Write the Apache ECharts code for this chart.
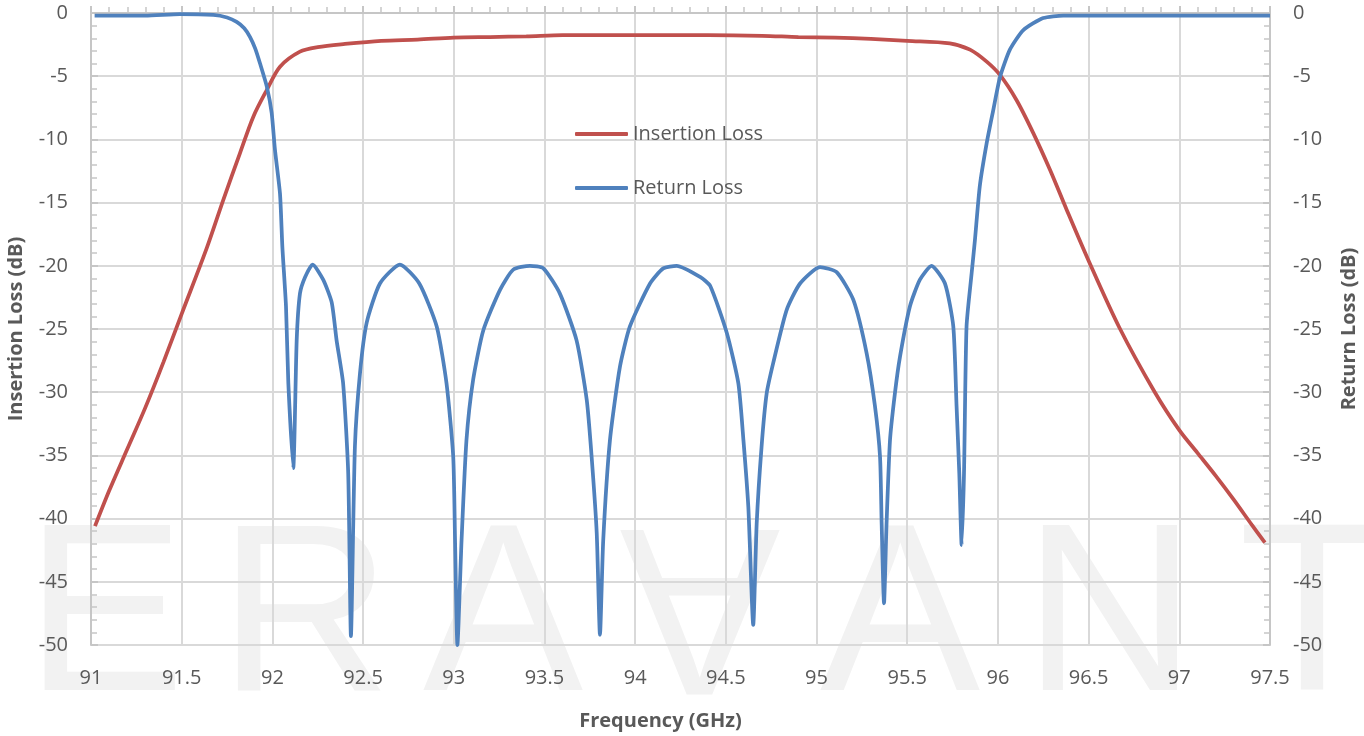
<!DOCTYPE html>
<html>
<head>
<meta charset="utf-8">
<title>Insertion / Return Loss</title>
<script src="https://cdn.jsdelivr.net/npm/echarts@6/dist/echarts.min.js"></script>
<style>
    html, body { margin: 0; padding: 0; background: #fff; }
    #chart { width: 1364px; height: 736px; }
</style>
</head>
<body>
<div id="chart"></div>
<script>
// insertion loss
const ilFreq = [91.022, 91.1, 91.2, 91.3, 91.4, 91.5, 91.638, 91.729, 91.821, 91.895, 91.969,
    92.042, 92.152, 92.25, 92.4, 92.6, 92.8, 93.0, 93.2, 93.4, 93.6, 94.0, 94.4, 94.7, 94.9,
    95.1, 95.3, 95.5, 95.735, 95.846, 95.938, 96.011, 96.103, 96.195, 96.287, 96.38,
    96.5, 96.67, 96.865, 97.0, 97.1, 97.2, 97.3, 97.4, 97.472]
const ilLoss = [-40.6, -37.8, -34.5, -31.2, -27.6, -23.8, -18.6, -14.8, -11.1, -8.2, -6.1,
    -4.25, -3.06, -2.7, -2.45, -2.2, -2.1, -1.95, -1.9, -1.85, -1.75, -1.75, -1.75, -1.8, -1.9,
    -1.95, -2.05, -2.2, -2.4, -2.9, -3.85, -4.9, -6.9, -9.5, -12.4, -15.6,
    -19.6, -24.9, -30.0, -33.0, -34.8, -36.6, -38.5, -40.5, -41.9]

// return loss
const rlFreq = [91.02, 91.3, 91.49, 91.674, 91.75, 91.803, 91.845, 91.877, 91.905, 91.932,
    91.969, 91.996, 92.014, 92.042, 92.055, 92.075, 92.088, 92.115, 92.134, 92.152, 92.18,
    92.222, 92.28, 92.327, 92.354, 92.39, 92.418, 92.433, 92.455, 92.483, 92.52, 92.593,
    92.703, 92.81, 92.906, 92.96, 92.997, 93.007, 93.02, 93.043, 93.07, 93.107, 93.163,
    93.255, 93.328, 93.42, 93.494, 93.585, 93.677, 93.733, 93.76, 93.788, 93.806, 93.824,
    93.861, 93.916, 93.971, 94.082, 94.155, 94.229, 94.36, 94.414, 94.505, 94.569, 94.597,
    94.624, 94.651, 94.67, 94.697, 94.725, 94.761, 94.835, 94.909, 95.019, 95.111, 95.203,
    95.276, 95.322, 95.35, 95.359, 95.372, 95.386, 95.405, 95.432, 95.46, 95.515, 95.57,
    95.634, 95.708, 95.754, 95.772, 95.787, 95.8, 95.813, 95.827, 95.855, 95.873, 95.9,
    95.938, 95.974, 96.011, 96.066, 96.14, 96.25, 96.36, 97.0, 97.5]
const rlLoss = [-0.2, -0.2, -0.08, -0.15, -0.35, -0.7, -1.2, -1.9, -2.8, -4.0,
    -5.8, -7.9, -10.8, -14.3, -18.5, -23.2, -29.3, -36.0, -25.9, -22.2, -20.9,
    -19.9, -21.1, -22.9, -25.9, -29.3, -36.4, -49.3, -34.3, -28.5, -24.5, -21.4,
    -19.9, -21.4, -24.8, -29.3, -35.1, -41.7, -50.0, -41.7, -33.8, -29.0, -25.1,
    -21.9, -20.3, -20.0, -20.2, -22.2, -25.9, -30.6, -35.1, -41.1, -49.2, -41.7,
    -33.8, -28.0, -24.8, -21.4, -20.2, -20.0, -20.9, -21.6, -25.3, -29.3, -33.8,
    -39.1, -48.4, -40.4, -34.3, -30.1, -27.7, -23.5, -21.4, -20.1, -20.5, -22.7,
    -26.9, -31.1, -35.1, -40.4, -46.7, -40.4, -33.8, -30.1, -27.2, -23.2, -21.1,
    -20.0, -21.4, -24.8, -31.1, -36.4, -42.1, -36.4, -24.8, -20.6, -18.0, -13.7,
    -10.3, -7.7, -5.1, -2.9, -1.35, -0.4, -0.2, -0.2, -0.2]

// watermark letters and their centre x
const markLetters = ['E', 'R', 'A', 'A', 'A', 'N', 'T']
const markCentres = [105, 305, 503, 700, 900, 1110, 1312]

const textColor = '#595959'
const gridColor = '#d9d9d9'
const axisColor = '#c6c6c6'
const font = 'Open Sans'

const chart = echarts.init(document.getElementById('chart'))

function pairs(xs, ys) {
    return xs.map((x, i) => [x, ys[i]])
}

const watermark = markLetters.map((ch, i) => ({
    type: 'text',
    z: -10,
    silent: true,
    x: markCentres[i],
    y: i === 3 ? 596 : 624,
    rotation: i === 3 ? Math.PI : 0, // the V is an upside-down A
    style: {
        text: ch,
        fill: '#f2f2f2',
        font: '240px "Liberation Sans"',
        align: 'center',
        verticalAlign: 'middle'
    }
}))

const nameStyle = { color: textColor, fontSize: 20, fontWeight: 'bold', fontFamily: font }

const yAxisBase = {
    type: 'value',
    min: -50,
    max: 0,
    interval: 5,
    nameLocation: 'middle',
    nameRotate: 90,
    nameTextStyle: nameStyle,
    axisLine: { show: true, lineStyle: { color: axisColor, width: 2 } },
    axisTick: { show: true, inside: true, length: 7, lineStyle: { color: axisColor, width: 2 } },
    minorTick: { show: true, splitNumber: 5, length: 6, lineStyle: { color: axisColor, width: 1.5 } },
    axisLabel: { color: textColor, fontSize: 20, fontFamily: font, margin: 23 },
    splitLine: { show: false }
}

chart.setOption({
    animation: false,
    backgroundColor: '#fff',
    textStyle: { fontFamily: font },
    // fixed plot box, don't let v6 shrink it to fit the names
    grid: { left: 91, right: 94, top: 13, bottom: 91, containLabel: false, outerBoundsMode: 'none' },
    graphic: watermark,
    legend: {
        orient: 'vertical',
        left: 570,
        top: 119,
        itemGap: 34,
        itemWidth: 53,
        itemHeight: 4,
        icon: 'roundRect',
        textStyle: { color: textColor, fontSize: 20, fontFamily: font },
        data: ['Insertion Loss', 'Return Loss']
    },
    xAxis: {
        type: 'value',
        min: 91,
        max: 97.5,
        interval: 0.5,
        name: 'Frequency (GHz)',
        nameLocation: 'middle',
        nameGap: 66,
        nameTextStyle: Object.assign({ padding: [0, 40, 0, 0] }, nameStyle),
        axisLine: { lineStyle: { color: axisColor, width: 2 } },
        axisTick: { show: true, inside: true, length: 7, lineStyle: { color: axisColor, width: 2 } },
        minorTick: { show: true, splitNumber: 5, length: 6, lineStyle: { color: axisColor, width: 1.5 } },
        axisLabel: { color: textColor, fontSize: 20, fontFamily: font, margin: 23 },
        splitLine: { show: true, lineStyle: { color: gridColor, width: 2 } }
    },
    yAxis: [
        Object.assign({}, yAxisBase, {
            position: 'left',
            name: 'Insertion Loss (dB)',
            nameGap: 65,
            splitLine: { show: true, lineStyle: { color: gridColor, width: 2 } }
        }),
        Object.assign({}, yAxisBase, {
            position: 'right',
            name: 'Return Loss (dB)',
            nameGap: 69
        })
    ],
    series: [
        {
            name: 'Insertion Loss',
            type: 'line',
            yAxisIndex: 0,
            data: pairs(ilFreq, ilLoss),
            smooth: 0.3,
            showSymbol: false,
            itemStyle: { color: '#C0504D' },
            lineStyle: { color: '#C0504D', width: 3.75 }
        },
        {
            name: 'Return Loss',
            type: 'line',
            yAxisIndex: 1,
            data: pairs(rlFreq, rlLoss),
            smooth: 0.2,
            showSymbol: false,
            itemStyle: { color: '#4F81BD' },
            lineStyle: { color: '#4F81BD', width: 3.75 }
        }
    ]
})
</script>
</body>
</html>
